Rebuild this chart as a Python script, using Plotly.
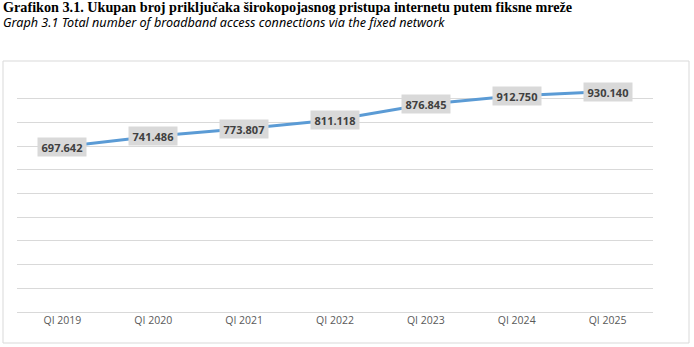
import plotly.graph_objects as go

categories = ["QI 2019", "QI 2020", "QI 2021", "QI 2022", "QI 2023", "QI 2024", "QI 2025"]
values = [697642, 741486, 773807, 811118, 876845, 912750, 930140]
value_labels = ["697.642", "741.486", "773.807", "811.118", "876.845", "912.750", "930.140"]

title_text = "<b>Grafikon 3.1. Ukupan broj priključaka širokopojasnog pristupa internetu putem fiksne mreže</b>"
subtitle_text = "<i>Graph 3.1 Total number of broadband access connections via the fixed network</i>"

W, H = 694, 347
ml, mr, mt, mb = 17, 41, 75, 35
pw = W - ml - mr
ph = H - mt - mb

fig = go.Figure()
fig.add_trace(go.Scatter(
    x=categories, y=values, mode="lines",
    line=dict(color="#5b9bd5", width=3),
    hoverinfo="skip", showlegend=False,
))

for c, v, t in zip(categories, values, value_labels):
    fig.add_annotation(
        x=c, y=v, text="<b>" + t + "</b>", showarrow=False,
        xanchor="center", yanchor="middle",
        bgcolor="#d9d9d9", width=48, height=18, borderpad=0,
        font=dict(family="Open Sans", size=11, color="#404040"),
    )

def px_x(p):
    return (p - ml) / pw

def px_y(p):
    return (H - mb - p) / ph

fig.add_annotation(
    xref="paper", yref="paper", x=px_x(1), y=px_y(7), text=title_text,
    showarrow=False, xanchor="left", yanchor="middle",
    font=dict(family="Liberation Serif", size=14.2, color="#000000"),
)
fig.add_annotation(
    xref="paper", yref="paper", x=px_x(1), y=px_y(22), text=subtitle_text,
    showarrow=False, xanchor="left", yanchor="middle",
    font=dict(family="Noto Sans", size=12.6, color="#000000"),
)

fig.add_shape(
    type="rect", xref="paper", yref="paper",
    x0=px_x(3), x1=px_x(689), y0=px_y(343), y1=px_y(61),
    line=dict(color="#d9d9d9", width=1), fillcolor="rgba(0,0,0,0)", layer="below",
)

fig.update_layout(
    width=W, height=H,
    margin=dict(l=ml, r=mr, t=mt, b=mb),
    paper_bgcolor="white", plot_bgcolor="white",
    xaxis=dict(
        type="category", showgrid=False, showline=False, zeroline=False,
        ticks="", tickfont=dict(family="Open Sans", size=10.5, color="#595959"),
        range=[-0.5, 6.5],
    ),
    yaxis=dict(
        range=[0, 1000000], dtick=100000, showgrid=True, gridcolor="#d9d9d9",
        gridwidth=1, zeroline=True, zerolinecolor="#d9d9d9", zerolinewidth=1,
        showticklabels=False, showline=False, ticks="",
    ),
)

fig.write_html("out.html")
